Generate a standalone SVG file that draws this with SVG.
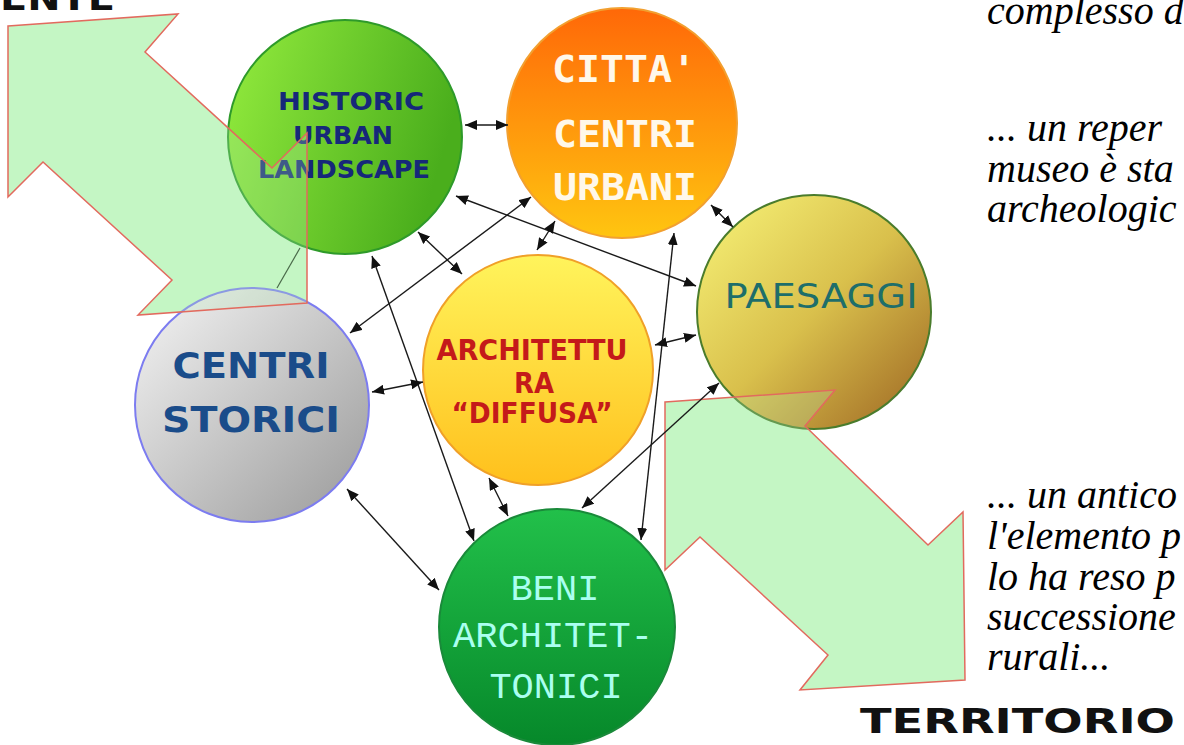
<svg xmlns="http://www.w3.org/2000/svg" width="1184" height="745" viewBox="0 0 1184 745">
<defs>
<linearGradient id="gHist" x1="0" y1="0" x2="1" y2="0.3"><stop offset="0" stop-color="#94ec3e"/><stop offset="1" stop-color="#4aae1c"/></linearGradient>
<linearGradient id="gCitta" x1="0" y1="0" x2="0" y2="1"><stop offset="0" stop-color="#ff6808"/><stop offset="1" stop-color="#ffc510"/></linearGradient>
<linearGradient id="gPaes" x1="0.1" y1="0.1" x2="0.9" y2="0.9"><stop offset="0" stop-color="#f2ea70"/><stop offset="0.5" stop-color="#d9c04c"/><stop offset="1" stop-color="#a8762a"/></linearGradient>
<linearGradient id="gStor" x1="0.1" y1="0.1" x2="0.9" y2="0.9"><stop offset="0" stop-color="#ececec"/><stop offset="1" stop-color="#a2a2a2"/></linearGradient>
<linearGradient id="gArch" x1="0" y1="0" x2="0" y2="1"><stop offset="0" stop-color="#fff45c"/><stop offset="1" stop-color="#ffc01c"/></linearGradient>
<linearGradient id="gBeni" x1="0" y1="0" x2="0" y2="1"><stop offset="0" stop-color="#22c04a"/><stop offset="1" stop-color="#06882a"/></linearGradient>
<marker id="ah" viewBox="0 0 12 10" refX="12" refY="5" markerWidth="12" markerHeight="10" markerUnits="userSpaceOnUse" orient="auto-start-reverse"><path d="M0,0 L12,5 L0,10 z" fill="#111"/></marker>
</defs>
<style>
.bigarrow{fill:#c8f8c8;stroke:none}
.bigarrowtop{fill:#b8f0b8;fill-opacity:0.25;stroke:#e26a5e;stroke-width:1.5;stroke-linejoin:miter}
.conn{stroke:#1a1a1a;stroke-width:1.4;fill:none;marker-start:url(#ah);marker-end:url(#ah)}
.node circle{stroke-width:2}
.vb{font-family:"DejaVu Sans",Verdana,sans-serif;font-weight:bold;text-anchor:middle}
.side{font-family:"Liberation Serif","Times New Roman",serif;font-style:italic;font-size:40px;fill:#000}
</style>
<rect width="1184" height="745" fill="#ffffff"/>
<text x="0" y="10" font-family="DejaVu Sans,sans-serif" font-weight="bold" font-size="34" textLength="115" lengthAdjust="spacingAndGlyphs" fill="#111">ENTE</text>
<!-- big arrows base -->
<polygon class="bigarrow" points="8,26 178,14 145,52 272,168 307,133 307,303 138,315 172,280 43,162 8,197"/>
<polygon class="bigarrow" points="665,402 835,390 805,426 928,545 963,512 965,680 800,690 828,655 700,537 665,570"/>
<g id="node-centri-storici" class="node">
<circle cx="252" cy="405" r="117" fill="url(#gStor)" stroke="#7c7cf0"/>
<text class="vb" x="251" y="378" font-size="36" fill="#1a4c8a" textLength="157" lengthAdjust="spacingAndGlyphs">CENTRI</text>
<text class="vb" x="251" y="432" font-size="36" fill="#1a4c8a" textLength="178" lengthAdjust="spacingAndGlyphs">STORICI</text>
</g>
<g id="node-historic" class="node">
<circle cx="345" cy="137" r="117" fill="url(#gHist)" stroke="#2e9a2a"/>
<text class="vb" x="351" y="110" font-size="25" fill="#16287a" textLength="146" lengthAdjust="spacingAndGlyphs">HISTORIC</text>
<text class="vb" x="343" y="144" font-size="25" fill="#16287a" textLength="100" lengthAdjust="spacingAndGlyphs">URBAN</text>
<text class="vb" x="344" y="178" font-size="25" fill="#16287a" textLength="172" lengthAdjust="spacingAndGlyphs">LANDSCAPE</text>
</g>
<g id="node-citta" class="node">
<circle cx="622" cy="123" r="115" fill="url(#gCitta)" stroke="#f2a030"/>
<text x="624" y="82" font-family="DejaVu Sans Mono,monospace" font-weight="bold" font-size="38" fill="#fff8ea" text-anchor="middle" textLength="144" lengthAdjust="spacingAndGlyphs">CITTA'</text>
<text x="625" y="147" font-family="DejaVu Sans Mono,monospace" font-weight="bold" font-size="38" fill="#fff8ea" text-anchor="middle" textLength="144" lengthAdjust="spacingAndGlyphs">CENTRI</text>
<text x="625" y="200" font-family="DejaVu Sans Mono,monospace" font-weight="bold" font-size="38" fill="#fff8ea" text-anchor="middle" textLength="144" lengthAdjust="spacingAndGlyphs">URBANI</text>
</g>
<g id="node-paesaggi" class="node">
<circle cx="814" cy="312" r="117" fill="url(#gPaes)" stroke="#4a7c2c"/>
<text x="821" y="308" font-family="DejaVu Sans,Verdana,sans-serif" font-size="33" fill="#1e6e6a" text-anchor="middle" textLength="193" lengthAdjust="spacingAndGlyphs">PAESAGGI</text>
</g>
<g id="node-architettura" class="node">
<circle cx="538" cy="370" r="115" fill="url(#gArch)" stroke="#f0a028"/>
<text class="vb" x="532" y="360" font-size="28" fill="#c41a1a" textLength="191" lengthAdjust="spacingAndGlyphs">ARCHITETTU</text>
<text class="vb" x="534" y="393" font-size="28" fill="#c41a1a" textLength="40" lengthAdjust="spacingAndGlyphs">RA</text>
<text class="vb" x="532" y="423" font-size="28" fill="#c41a1a" textLength="161" lengthAdjust="spacingAndGlyphs">“DIFFUSA”</text>
</g>
<g id="node-beni" class="node">
<circle cx="557" cy="627" r="118" fill="url(#gBeni)" stroke="#1a8a3a"/>
<text x="555" y="600" font-family="Liberation Mono,Courier New,monospace" font-size="37" fill="#aafff0" text-anchor="middle">BENI</text>
<text x="553" y="647" font-family="Liberation Mono,Courier New,monospace" font-size="37" fill="#aafff0" text-anchor="middle" textLength="200" lengthAdjust="spacingAndGlyphs">ARCHITET-</text>
<text x="556" y="698" font-family="Liberation Mono,Courier New,monospace" font-size="37" fill="#aafff0" text-anchor="middle">TONICI</text>
</g>
<!-- big arrows overlay -->
<polygon class="bigarrowtop" points="8,26 178,14 145,52 272,168 307,133 307,303 138,315 172,280 43,162 8,197"/>
<polygon class="bigarrowtop" points="665,402 835,390 805,426 928,545 963,512 965,680 800,690 828,655 700,537 665,570"/>
<g id="connectors">
<line x1="300" y1="248" x2="277" y2="288" stroke="#4a6a4a" stroke-width="1.2"/>
<line class="conn" x1="465" y1="125" x2="508" y2="125"/>
<line class="conn" x1="456" y1="196" x2="696" y2="286"/>
<line class="conn" x1="418" y1="232" x2="462" y2="274"/>
<line class="conn" x1="531" y1="197" x2="350" y2="333"/>
<line class="conn" x1="555" y1="221" x2="537" y2="250"/>
<line class="conn" x1="711" y1="205" x2="733" y2="227"/>
<line class="conn" x1="674" y1="233" x2="641" y2="540"/>
<line class="conn" x1="372" y1="256" x2="474" y2="541"/>
<line class="conn" x1="423" y1="382" x2="372" y2="392"/>
<line class="conn" x1="655" y1="345" x2="696" y2="335"/>
<line class="conn" x1="489" y1="478" x2="508" y2="516"/>
<line class="conn" x1="719" y1="383" x2="582" y2="508"/>
<line class="conn" x1="347" y1="489" x2="439" y2="590"/>
</g>
<text x="860" y="733" font-family="DejaVu Sans,Verdana,sans-serif" font-weight="bold" font-size="33" fill="#111" textLength="315" lengthAdjust="spacingAndGlyphs">TERRITORIO</text>
<g id="side-text">
<text class="side" x="987" y="24">complesso d</text>
<text class="side" x="987" y="141">... un reper</text>
<text class="side" x="987" y="182">museo è sta</text>
<text class="side" x="987" y="222">archeologic</text>
<text class="side" x="987" y="508">... un antico</text>
<text class="side" x="987" y="549">l'elemento p</text>
<text class="side" x="987" y="590">lo ha reso p</text>
<text class="side" x="987" y="630">successione</text>
<text class="side" x="987" y="670">rurali...</text>
</g>
</svg>
